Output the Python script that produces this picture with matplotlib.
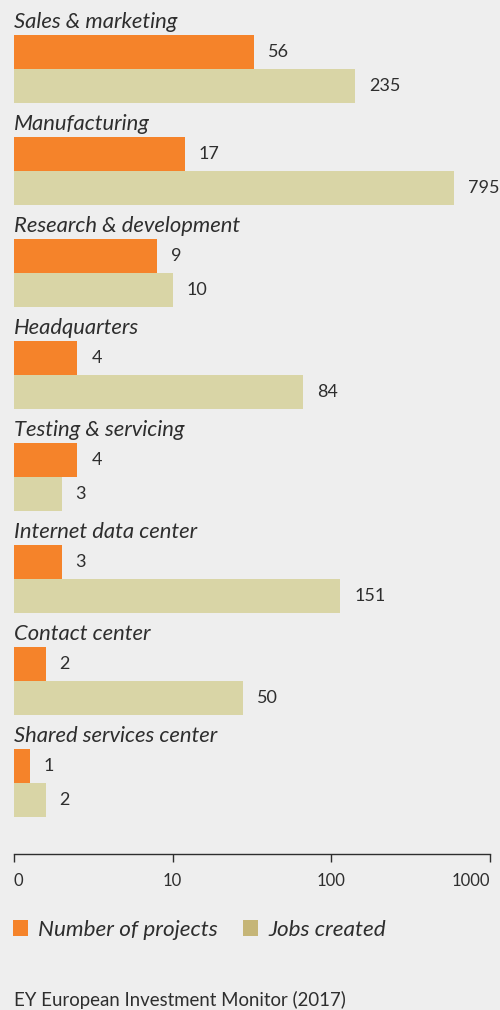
import numpy as np
import matplotlib.pyplot as plt
from matplotlib.patches import Patch

categories = ['Sales & marketing', 'Manufacturing', 'Research & development',
              'Headquarters', 'Testing & servicing', 'Internet data center',
              'Contact center', 'Shared services center']
projects = [56, 17, 9, 4, 4, 3, 2, 1]
jobs = [235, 795, 10, 84, 3, 151, 50, 2]
tick_values = [0, 10, 100, 1000]
tick_labels = ['0', '10', '100', '1000']

BG = '#eeeeee'
ORANGE = '#f5832a'
KHAKI = '#d9d5a6'
KHAKI_LEG = '#c5b577'
TXT = '#2e2e2e'

plt.rcParams['font.family'] = ['Lato', 'DejaVu Sans']

# decade-wise linear axis: 0-10, 10-100, 100-1000 each take the same width
knots = [0, 10, 100, 1000]
steps = [0, 1, 2, 3]
def fwd(x):
    return np.interp(x, knots, steps)
def inv(y):
    return np.interp(y, steps, knots)

fig = plt.figure(figsize=(5, 10.1), dpi=100, facecolor=BG)
ax = fig.add_axes([14/500, 156/1010, 476/500, 853/1010])
ax.set_facecolor('none')
ax.set_xscale('function', functions=(fwd, inv))
ax.set_xlim(0, 1000)
ax.set_ylim(25.09, 0)

for i, cat in enumerate(categories):
    y0 = 3 * i
    ax.barh(y0 + 1.5, projects[i], height=1, color=ORANGE, linewidth=0)
    ax.barh(y0 + 2.5, jobs[i], height=1, color=KHAKI, linewidth=0)
    ax.text(0, y0 + 0.79, cat, fontsize=15.8, style='italic', color=TXT,
            va='baseline', ha='left')
    ax.annotate(str(projects[i]), xy=(projects[i], y0 + 1.5), xytext=(10, 0),
                textcoords='offset points', va='center', ha='left',
                fontsize=13, color=TXT, annotation_clip=False)
    ax.annotate(str(jobs[i]), xy=(jobs[i], y0 + 2.5), xytext=(10, 0),
                textcoords='offset points', va='center', ha='left',
                fontsize=13, color=TXT, annotation_clip=False)

for s in ['left', 'top', 'right']:
    ax.spines[s].set_visible(False)
ax.spines['bottom'].set_color(TXT)
ax.spines['bottom'].set_linewidth(1)
ax.set_yticks([])
ax.set_xticks(tick_values)
ax.set_xticklabels(tick_labels, fontsize=12, color=TXT)
ax.tick_params(axis='x', direction='out', length=6, width=1, color=TXT, pad=8)
labs = ax.get_xticklabels()
labs[0].set_ha('left')
labs[-1].set_ha('right')

handles = [Patch(facecolor=ORANGE, label='Number of projects'),
           Patch(facecolor=KHAKI_LEG, label='Jobs created')]
fig.legend(handles=handles, loc='center left', bbox_to_anchor=(13/500, 1 - 930/1010),
           ncol=2, frameon=False, borderpad=0, borderaxespad=0,
           handlelength=0.68, handleheight=0.68, handletextpad=0.45,
           columnspacing=1.1, prop={'size': 16.2, 'style': 'italic'},
           labelcolor=TXT)

fig.text(14/500, 4/1010, 'EY European Investment Monitor (2017)',
         fontsize=13.4, color=TXT, va='baseline', ha='left')

fig.savefig('out.png', dpi=100, facecolor=BG)
